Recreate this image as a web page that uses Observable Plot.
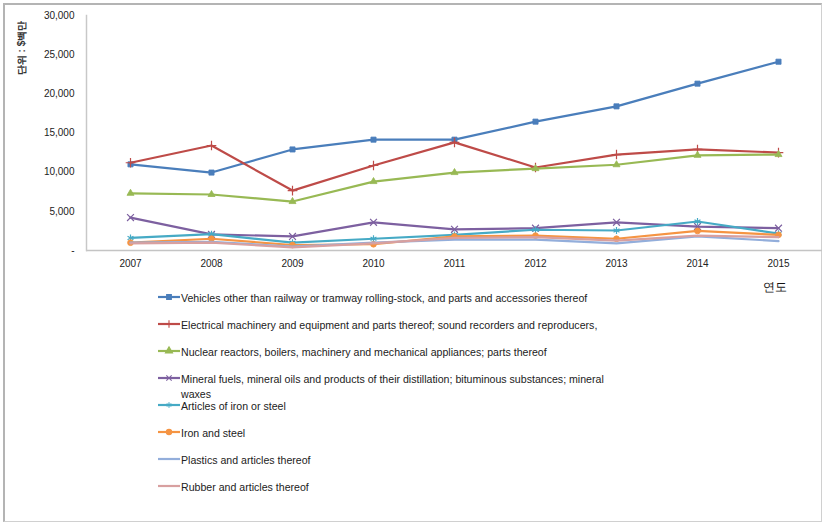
<!DOCTYPE html>
<html><head><meta charset="utf-8">
<script src="https://cdn.jsdelivr.net/npm/d3@7"></script>
<script src="https://cdn.jsdelivr.net/npm/@observablehq/plot@0.6"></script>
<style>
body{margin:0;background:#fff;}
#wrap{position:relative;width:827px;height:527px;overflow:hidden;font-family:"Liberation Sans",Arial,sans-serif;}
#frame{position:absolute;left:3px;top:3px;width:819px;height:519px;border:2px solid #b4b4b4;border-right:1px solid #d0d0d0;border-bottom:1px solid #d0d0d0;box-sizing:border-box;}
#chart{position:absolute;left:0;top:0;}
.ylab{position:absolute;left:22px;top:48px;transform:translate(-50%,-50%) rotate(-90deg);font-size:10px;font-weight:bold;color:#333;white-space:nowrap;}
.xlab{position:absolute;left:763px;top:279px;font-size:12px;color:#111;}
#legend{position:absolute;left:158px;top:0;font-size:10.6px;color:#222;}
.item{position:absolute;left:0;white-space:nowrap;display:flex;align-items:flex-start;}
.item svg{flex:none;margin-top:-1px}
.item span{margin-left:1px;line-height:15px;margin-top:-7px}
</style></head>
<body><div id="wrap"><div id="frame"></div><div id="chart"></div>
<div class="ylab">단위 : $백만</div><div class="xlab">연도</div><div id="legend"></div></div>
<script>
const years = ["2007","2008","2009","2010","2011","2012","2013","2014","2015"];
const seriesNames = [
  "Vehicles other than railway or tramway rolling-stock, and parts and accessories thereof",
  "Electrical machinery and equipment and parts thereof; sound recorders and reproducers,",
  "Nuclear reactors, boilers, machinery and mechanical appliances; parts thereof",
  "Mineral fuels, mineral oils and products of their distillation; bituminous substances; mineral\nwaxes",
  "Articles of iron or steel",
  "Iron and steel",
  "Plastics and articles thereof",
  "Rubber and articles thereof"
];
const vehicles   = [11000, 9950, 12900, 14150, 14150, 16450, 18400, 21300, 24100];
const electrical = [11200, 13400, 7650, 10850, 13800, 10600, 12250, 12900, 12500];
const nuclear    = [7300, 7150, 6250, 8800, 9950, 10450, 10950, 12150, 12250];
const mineral    = [4200, 2050, 1800, 3600, 2700, 2850, 3600, 3050, 2850];
const articles   = [1600, 2100, 1000, 1500, 2000, 2650, 2550, 3700, 2150];
const ironSteel  = [1000, 1500, 700, 800, 1800, 1900, 1500, 2500, 2000];
const plastics   = [1000, 1100, 500, 1000, 1400, 1400, 900, 1800, 1200];
const rubber     = [900, 1000, 400, 900, 1600, 1700, 1250, 1900, 1700];
const yTicks = [0, 5000, 10000, 15000, 20000, 25000, 30000];
const colors  = ["#4a7ebb", "#be4b48", "#98b954", "#7d60a0", "#46aac5", "#f59443", "#93aedb", "#d8a0a0"];
const symbols = ["square", "plus", "triangle", "times", "asterisk", "circle", null, null];
const filled  = [true, false, true, false, false, true, false, false];

const allValues = [vehicles, electrical, nuclear, mineral, articles, ironSteel, plastics, rubber];
const data = [];
allValues.forEach((vals, si) => vals.forEach((v, i) => data.push({series: si, year: years[i], value: v})));

const marks = [
  Plot.ruleY([0], {stroke: "#c4c4c4", strokeWidth: 1.5}),
  Plot.frame({anchor: "left", stroke: "#c8c8c8", strokeWidth: 1.5}),
  Plot.axisX({tickSize: 0, tickPadding: 9, fontSize: 10, fill: "#222"}),
  Plot.axisY({ticks: yTicks, tickSize: 0, tickPadding: 12, fontSize: 10, fill: "#222",
    tickFormat: d => d === 0 ? "-" : d3.format(",")(d)})
];
allValues.forEach((vals, si) => {
  const d = data.filter(r => r.series === si);
  marks.push(Plot.line(d, {x: "year", y: "value", stroke: colors[si], strokeWidth: 2.2}));
  if (symbols[si]) {
    marks.push(Plot.dot(d, filled[si]
      ? {x: "year", y: "value", symbol: symbols[si], fill: colors[si], stroke: colors[si], strokeWidth: 0.8, r: symbols[si] === "triangle" ? 2.6 : 2.9}
      : {x: "year", y: "value", symbol: symbols[si], stroke: colors[si], strokeWidth: 1.2, r: 3.2}));
  }
});

const chart = Plot.plot({
  width: 827, height: 275,
  marginLeft: 86, marginRight: 5, marginTop: 15, marginBottom: 25,
  style: {fontFamily: "'Liberation Sans', Arial, sans-serif", background: "transparent"},
  x: {type: "point", domain: years, padding: 0.5, label: null},
  y: {domain: [0, 30000], label: null},
  marks
});
document.getElementById("chart").appendChild(chart);

// legend
const legendTops = [298, 325, 352, 379, 406, 433, 460, 487];
const leg = document.getElementById("legend");
const symMap = {square: d3.symbolSquare, plus: d3.symbolPlus, triangle: d3.symbolTriangle,
  times: d3.symbolTimes, asterisk: d3.symbolAsterisk, circle: d3.symbolCircle};
seriesNames.forEach((name, si) => {
  const div = document.createElement("div");
  div.className = "item";
  div.style.top = (legendTops[si]) + "px";
  const svg = d3.create("svg").attr("width", 22).attr("height", 1).style("overflow", "visible");
  svg.append("line").attr("x1", 0).attr("x2", 22).attr("y1", 0).attr("y2", 0)
    .attr("stroke", colors[si]).attr("stroke-width", 2.2);
  if (symbols[si]) {
    svg.append("path").attr("transform", "translate(11,0)")
      .attr("d", d3.symbol(symMap[symbols[si]], filled[si] ? 22 : 20)())
      .attr("fill", filled[si] ? colors[si] : "none").attr("stroke", colors[si]).attr("stroke-width", 1.1);
  }
  div.appendChild(svg.node());
  const span = document.createElement("span");
  span.innerHTML = name.replace("\n", "<br>");
  div.appendChild(span);
  leg.appendChild(div);
});
</script></body></html>
